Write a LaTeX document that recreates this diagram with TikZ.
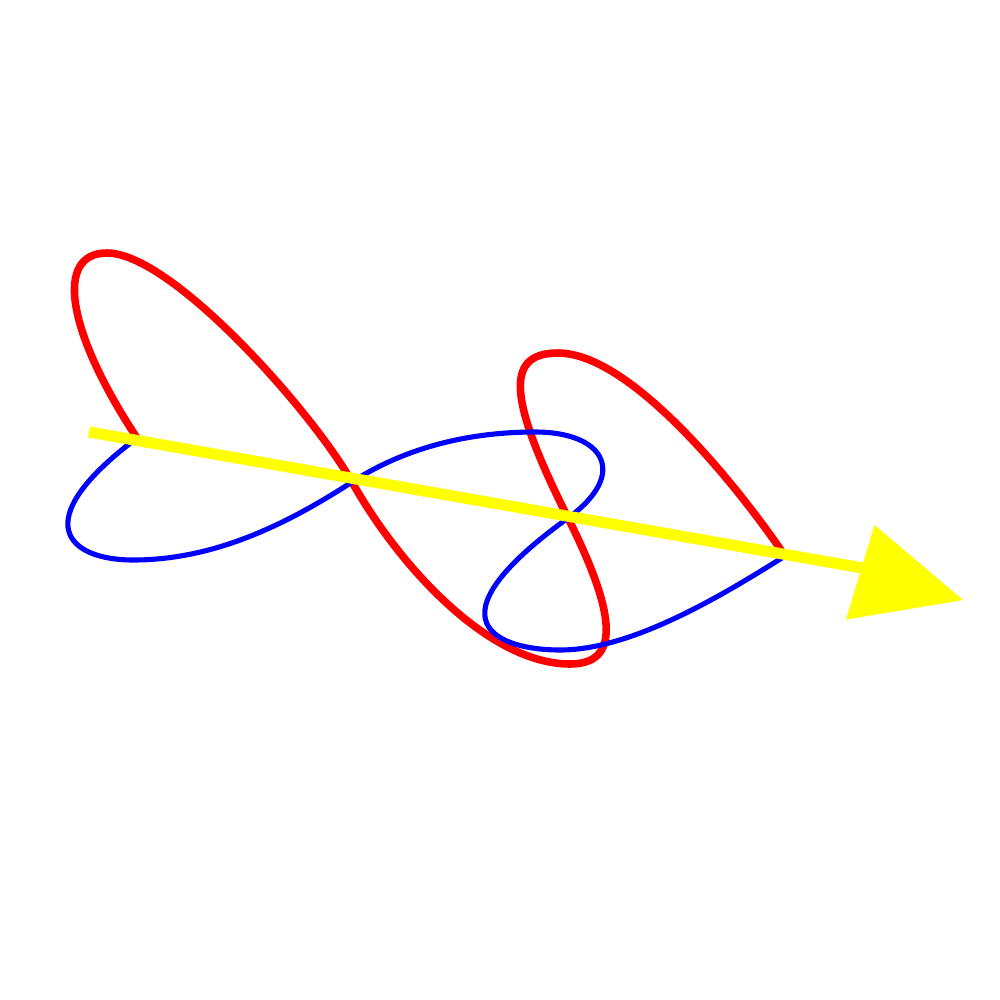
\documentclass[tikz,border=0pt]{standalone}
\begin{document}
\begin{tikzpicture}[x=0.01cm,y=-0.01cm,
  redwave/.style={draw=red,line width=2.15pt,line cap=round,line join=round},
  bluewave/.style={draw=blue,line width=1.45pt,line cap=round,line join=round},
  axisline/.style={draw=pureyellow,line width=3.15pt},
  axishead/.style={fill=pureyellow,draw=none}]
\definecolor{pureyellow}{RGB}{255,255,0}
\useasboundingbox (0,0) rectangle (1000,1000);
% crossing points on the axis
\coordinate (c0) at (137,438);
\coordinate (c1) at (352,482);
\coordinate (c2) at (568,518);
\coordinate (c3) at (785,556);
% red wave
\draw[redwave] (c0) .. controls (65.5,329.5) and (55,253) .. (107,253)
  .. controls (172,253) and (312.8,412.4) .. (c1)
  .. controls (401,569) and (490,664) .. (570,664)
  .. controls (620,664) and (617.2,616.3) .. (c2)
  .. controls (509.9,401.8) and (503,353) .. (558,353)
  .. controls (633,353) and (743,493.75) .. (c3);
% blue wave
\draw[bluewave] (c0) .. controls (25,522) and (68,560) .. (133,560)
  .. controls (213,560) and (284.8,525.6) .. (c1)
  .. controls (402.4,449.3) and (465,432) .. (535,432)
  .. controls (605,432) and (628.75,474.1) .. (c2)
  .. controls (422.2,623.3) and (500,650) .. (560,650)
  .. controls (630,650) and (717.3,598.7) .. (c3);
% yellow axis arrow
\coordinate (ystart) at (89,432);
\coordinate (yend) at (868,569);
\coordinate (tip) at (963,600);
\coordinate (h1) at (874.5,525);
\coordinate (h2) at (846,619.5);
\draw[axisline] (ystart) -- (yend);
\fill[axishead] (tip) -- (h1) -- (h2) -- cycle;
\end{tikzpicture}
\end{document}
